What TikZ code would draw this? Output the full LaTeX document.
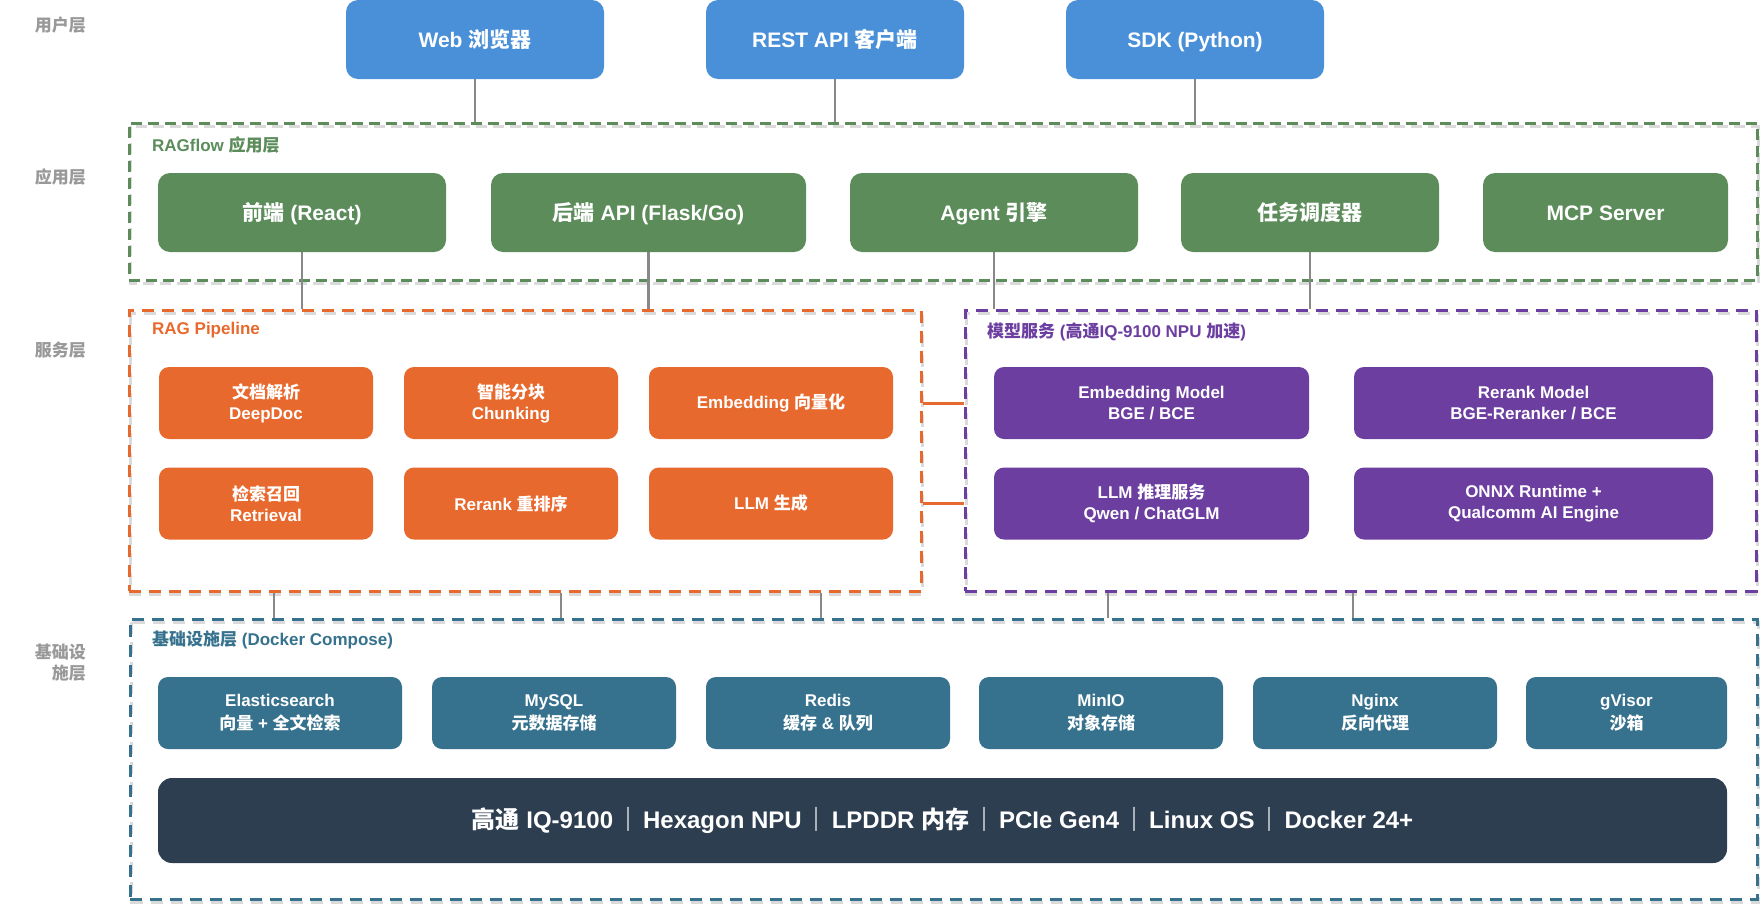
\documentclass[tikz,border=0pt]{standalone}
\usepackage{fontspec}
\setmainfont{Liberation Sans}
\newfontfamily\latinfont{Liberation Sans}
\newfontfamily\cjkfont{Noto Sans CJK SC}
\XeTeXinterchartokenstate=1
\newXeTeXintercharclass\CJKcls
\newcount\cjkc
\def\setcjkrange#1#2{\cjkc=#1\relax\loop\XeTeXcharclass\cjkc=\CJKcls\relax\ifnum\cjkc<#2\relax\advance\cjkc by 1\relax\repeat}
\setcjkrange{"4E00}{"9FFF}
\setcjkrange{"3000}{"303F}
\setcjkrange{"FF00}{"FFEF}
\XeTeXinterchartoks 0 \CJKcls = {\cjkfont}
\XeTeXinterchartoks 4095 \CJKcls = {\cjkfont}
\XeTeXinterchartoks \CJKcls 0 = {\latinfont}
\XeTeXinterchartoks \CJKcls 4095 = {\latinfont}
\definecolor{cblue}{HTML}{4A90D9}
\definecolor{cgreen}{HTML}{5B8C5A}
\definecolor{corange}{HTML}{E8692D}
\definecolor{cpurple}{HTML}{6B3EA0}
\definecolor{cteal}{HTML}{36718D}
\definecolor{cdark}{HTML}{2D3E50}
\definecolor{cgray}{HTML}{888888}
\definecolor{clabel}{HTML}{999999}
\definecolor{cshadow}{HTML}{DADADA}
\begin{document}
\begin{tikzpicture}[x=1pt,y=-1pt,
  box/.style={rounded corners=10pt, inner sep=0pt, text=white, align=center, font=\bfseries\fontsize{17}{21}\selectfont},
  ubox/.style={box, fill=cblue, rounded corners=12pt, font=\bfseries\fontsize{21}{25}\selectfont, minimum height=79pt, minimum width=258pt, text height=19pt, text depth=4pt},
  gbox/.style={box, fill=cgreen, rounded corners=12pt, font=\bfseries\fontsize{21}{25}\selectfont, minimum height=79pt, text height=19pt, text depth=4pt},
  obox/.style={box, fill=corange, minimum height=72pt},
  pbox/.style={box, fill=cpurple, minimum height=72pt},
  ibox/.style={box, fill=cteal, minimum height=72pt, font=\bfseries\fontsize{17}{23}\selectfont},
  dbox/.style={box, fill=cdark, rounded corners=14pt, minimum height=85pt, minimum width=1569pt, font=\bfseries\fontsize{24}{28}\selectfont},
  framebox/.style={dash pattern=on 12pt off 8pt, line width=3pt, inner sep=0pt},
  gdash/.style={dash pattern=on 11pt off 6pt},
  shadowline/.style={draw=cshadow, line width=3pt, dash pattern=on 12pt off 8pt},
  conn/.style={draw=cgray, line width=2.5pt},
  oconn/.style={draw=corange, line width=3pt},
  lay/.style={text=clabel, font=\bfseries\fontsize{17}{21}\selectfont, align=right, anchor=east, inner sep=0pt},
  sec/.style={anchor=west, font=\bfseries\fontsize{17}{21}\selectfont, inner sep=0pt}
]
\useasboundingbox (0,0) rectangle (1764,911);

% layer labels
\node[lay] (l1) at (86,25) {用户层};
\node[lay] (l2) at (86,177) {应用层};
\node[lay] (l3) at (86,350) {服务层};
\node[lay] (l4) at (86,662.5) {基础设\\施层};

% user layer
\node[ubox] (web) at (475,39.5) {Web 浏览器};
\node[ubox] (rest) at (835,39.5) {REST API 客户端};
\node[ubox] (sdk) at (1195,39.5) {SDK (Python)};

% frame shadows
\draw[shadowline, gdash] (130,126) rectangle (1758,283);
\draw[shadowline] (130,313) rectangle (922,594);
\draw[shadowline] (966,313) rectangle (1757,594);
\draw[shadowline] (131,622) rectangle (1758,902);

% frames
\node[framebox, gdash, draw=cgreen, minimum width=1628pt, minimum height=157pt] (app) at (943,201.5) {};
\node[framebox, draw=corange, minimum width=792pt, minimum height=281pt] (rag) at (525,450.5) {};
\node[framebox, draw=cpurple, minimum width=791pt, minimum height=281pt] (mdl) at (1360.5,450.5) {};
\node[framebox, draw=cteal, minimum width=1627pt, minimum height=280pt] (inf) at (943.5,759) {};

\node[sec, text=cgreen] (appt) at (152,145) {RAGflow 应用层};
\node[sec, text=corange] (ragt) at (152,330) {RAG Pipeline};
\node[sec, text=cpurple] (mdlt) at (987,332) {模型服务 (高通IQ-9100 NPU 加速)};
\node[sec, text=cteal] (inft) at (152,640) {基础设施层 (Docker Compose)};

% app layer
\node[gbox, minimum width=288pt] (fe) at (302,212.5) {前端 (React)};
\node[gbox, minimum width=315pt] (be) at (648.5,212.5) {后端 API (Flask/Go)};
\node[gbox, minimum width=288pt] (ag) at (994,212.5) {Agent 引擎};
\node[gbox, minimum width=258pt] (sch) at (1310,212.5) {任务调度器};
\node[gbox, minimum width=245pt] (mcp) at (1605.5,212.5) {MCP Server};

% RAG pipeline
\node[obox, minimum width=214pt] (doc) at (266,403) {文档解析\\DeepDoc};
\node[obox, minimum width=214pt] (chk) at (511,403) {智能分块\\Chunking};
\node[obox, minimum width=244pt] (emb) at (771,403) {Embedding 向量化};
\node[obox, minimum width=214pt] (ret) at (266,503.5) {检索召回\\Retrieval};
\node[obox, minimum width=214pt] (rrk) at (511,503.5) {Rerank 重排序};
\node[obox, minimum width=244pt] (llm) at (771,503.5) {LLM 生成};

% model services
\node[pbox, minimum width=315pt] (embm) at (1151.5,403) {Embedding Model\\BGE / BCE};
\node[pbox, minimum width=359pt] (rrkm) at (1533.5,403) {Rerank Model\\BGE-Reranker / BCE};
\node[pbox, minimum width=315pt] (llmm) at (1151.5,503.5) {LLM 推理服务\\Qwen / ChatGLM};
\node[pbox, minimum width=359pt] (onnx) at (1533.5,503.5) {ONNX Runtime +\\Qualcomm AI Engine};

% infrastructure
\node[ibox, minimum width=244pt] (es) at (280,713) {Elasticsearch\\向量 + 全文检索};
\node[ibox, minimum width=244pt] (sql) at (554,713) {MySQL\\元数据存储};
\node[ibox, minimum width=244pt] (rds) at (828,713) {Redis\\缓存 \& 队列};
\node[ibox, minimum width=244pt] (minio) at (1101,713) {MinIO\\对象存储};
\node[ibox, minimum width=244pt] (ngx) at (1375,713) {Nginx\\反向代理};
\node[ibox, minimum width=201pt] (gv) at (1626.5,713) {gVisor\\沙箱};
\node[dbox] (hw) at (942.5,820.5) {高通 IQ-9100\hspace{3pt}｜\hspace{3pt}Hexagon NPU\hspace{3pt}｜\hspace{3pt}LPDDR 内存\hspace{3pt}｜\hspace{3pt}PCIe Gen4\hspace{3pt}｜\hspace{3pt}Linux OS\hspace{3pt}｜\hspace{3pt}Docker 24+};

% connectors
\draw[conn] (web.south) -- (web.south |- app.north);
\draw[conn] (rest.south) -- (rest.south |- app.north);
\draw[conn] (sdk.south) -- (sdk.south |- app.north);
\draw[conn] (fe.south) -- (fe.south |- rag.north);
\draw[conn] (be.south) -- (be.south |- rag.north);
\draw[conn] (ag.south) -- (ag.south |- mdl.north);
\draw[conn] (sch.south) -- (sch.south |- mdl.north);
\draw[conn] (rag.south -| 274,0) -- (inf.north -| 274,0);
\draw[conn] (rag.south -| 561,0) -- (inf.north -| 561,0);
\draw[conn] (rag.south -| 821,0) -- (inf.north -| 821,0);
\draw[conn] (mdl.south -| 1108,0) -- (inf.north -| 1108,0);
\draw[conn] (mdl.south -| 1353,0) -- (inf.north -| 1353,0);
\draw[oconn] (rag.east |- emb.center) -- (mdl.west |- emb.center);
\draw[oconn] (rag.east |- llm.center) -- (mdl.west |- llm.center);
\end{tikzpicture}
\end{document}
